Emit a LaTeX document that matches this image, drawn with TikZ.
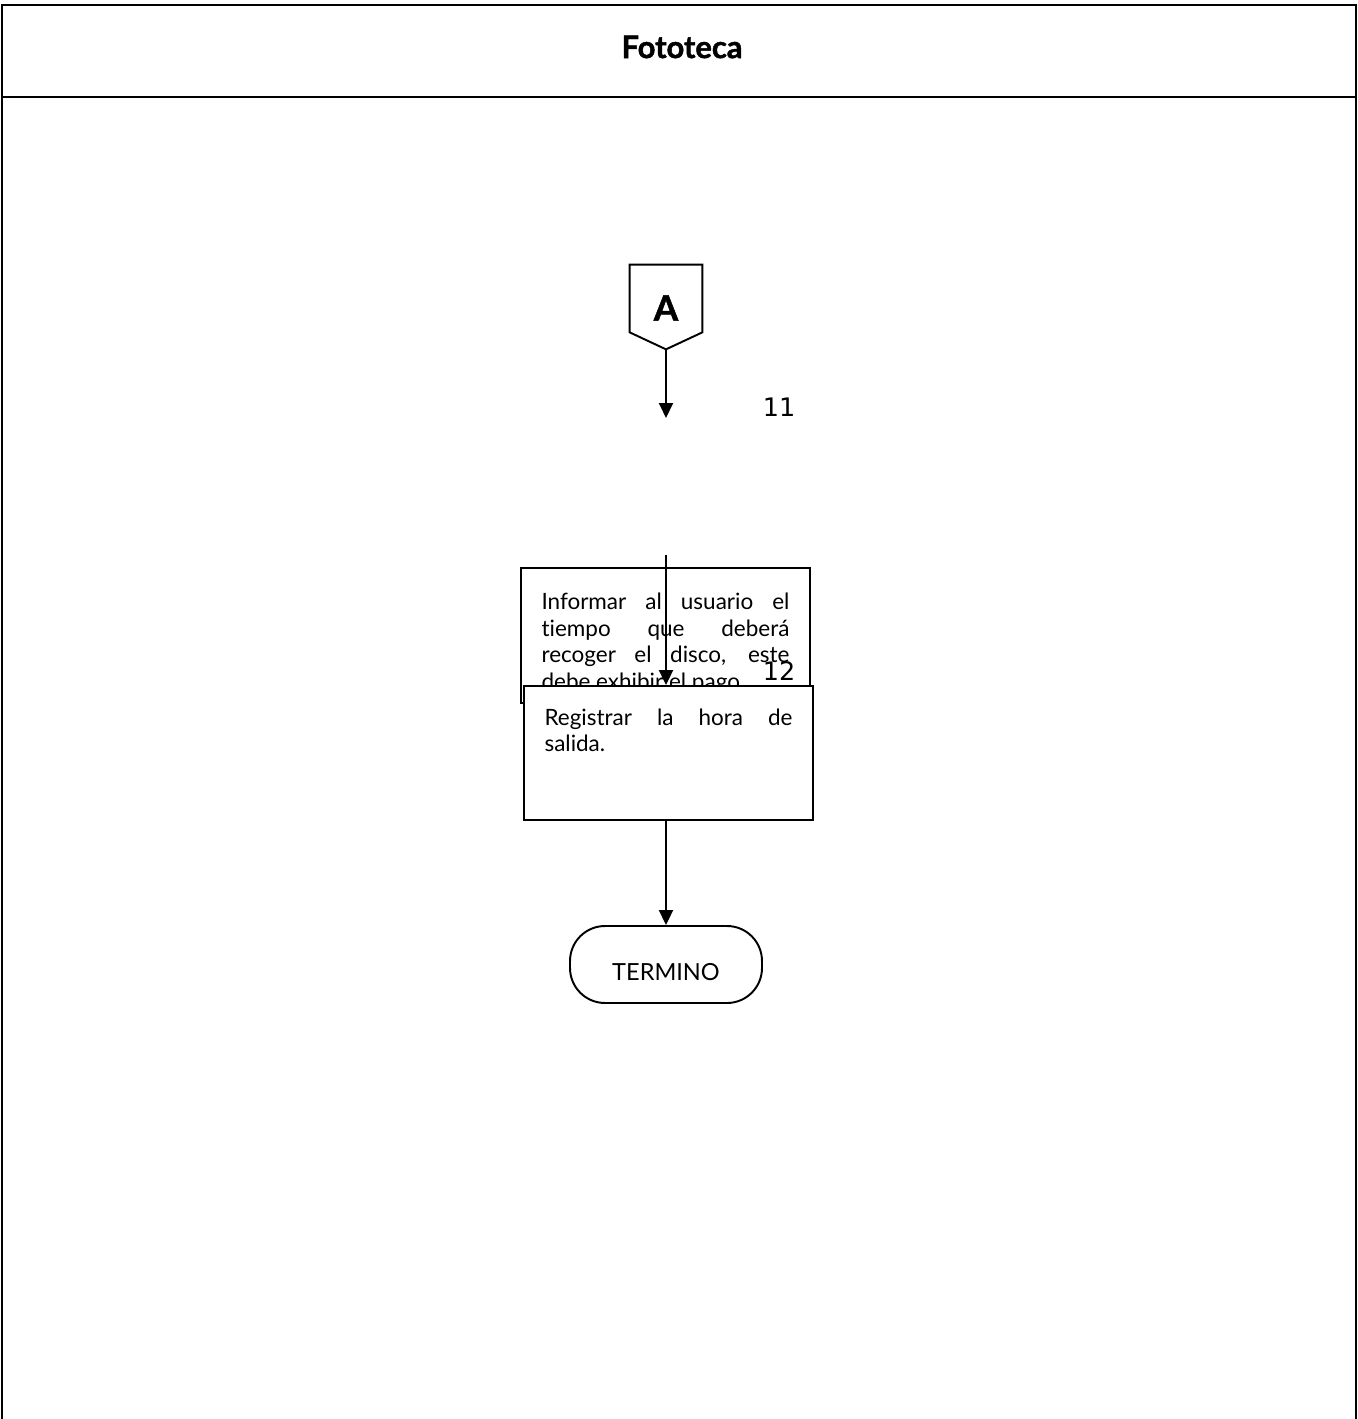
\documentclass[tikz,border=0pt]{standalone}
\usepackage{fontspec}
\setmainfont{Lato}[Ligatures=NoCommon]
\newfontfamily\heavyfont{Lato}[BoldFeatures={FakeBold=1.5}]
\newfontfamily\numfont{DejaVu Sans}
\usetikzlibrary{arrows.meta,calc}

\begin{document}
\begin{tikzpicture}[x=0.02cm, y=-0.02cm,
  frame/.style={line width=1.1pt},
  flow/.style={line width=1.1pt, -{Triangle[length=0.3cm,width=0.28cm]}},
  actbox/.style={draw, line width=1.1pt, fill=white, minimum width=5.78cm,
                 inner sep=0pt, font=\fontsize{12.8}{15.2}\selectfont},
  stepno/.style={font=\numfont\fontsize{14.5}{16}\selectfont},
  endbox/.style={draw, line width=1.1pt, rounded corners=0.7cm,
                 minimum width=3.84cm, minimum height=1.54cm,
                 font=\fontsize{13.4}{16}\selectfont}]
  \useasboundingbox (0,0) rectangle (1358,1419);

  % lane frame and header
  \draw[frame] (2,1419) -- (2,5) -- (1356,5) -- (1356,1419);
  \draw[frame] (2,97) -- (1356,97);
  \node[font=\heavyfont\bfseries\fontsize{17.6}{20}\selectfont] (lane) at (682,47) {Fototeca};

  % off-page connector A
  \node[minimum width=1.44cm, minimum height=1.34cm, inner sep=0pt,
        font=\heavyfont\bfseries\fontsize{20}{22}\selectfont] (conA) at (666,298.5)
    {\raisebox{-0.19cm}[\height][0pt]{A}};
  \draw[line width=1.1pt] (conA.north west) -- (conA.north east)
    -- (conA.south east) -- ($(conA.south)+(0,17)$) coordinate (conA-tip)
    -- (conA.south west) -- cycle;

  \coordinate (in11) at (666,418);
  \draw[flow] (conA-tip) -- (in11);
  \node[stepno] (n11) at (779,407) {11};

  % activities
  \node[actbox, minimum height=2.7cm] (act11) at (665.5,635.5)
    {\parbox[c][2.7cm][t]{4.96cm}{\vspace*{0.5cm}Informar al usuario el\linebreak
     tiempo que deberá\linebreak recoger el disco, este\linebreak
     debe exhibir el pago.}};
  \node[stepno] (n12) at (779,671) {12};
  \node[actbox, minimum height=2.68cm] (act12) at (668.5,753)
    {\parbox[c][2.68cm][t]{4.96cm}{\vspace*{0.45cm}Registrar la hora de\linebreak
     salida.}};

  \coordinate (in12) at (666,555);
  \draw[flow] (in12) -- (in12 |- act12.north);

  % end of procedure
  \node[endbox] (fin) at (666,964.5) {\raisebox{-0.14cm}[\height][0pt]{TERMINO}};
  \draw[flow] (fin.north |- act12.south) -- (fin.north);
\end{tikzpicture}
\end{document}
